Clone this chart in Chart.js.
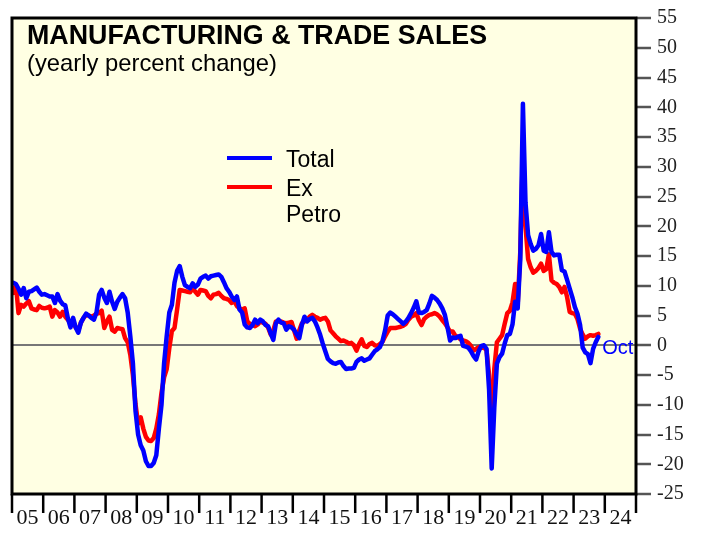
<!DOCTYPE html>
<html>
<head>
<meta charset="utf-8">
<script src="https://cdn.jsdelivr.net/npm/chart.js"></script>
<style>
  body { margin: 0; background: #fff; }
  #wrap { width: 701px; height: 535px; }
</style>
</head>
<body>
<div id="wrap"><canvas id="sales-chart" width="701" height="535"></canvas></div>
<script>
// year labels under the axis, one per year starting Jan 2005
const yearLabels = ['05', '06', '07', '08', '09', '10', '11', '12', '13', '14',
  '15', '16', '17', '18', '19', '20', '21', '22', '23', '24'];
const lastMonth = 'Oct';

// monthly yearly % change, Jan 2005 - Oct 2023
const total = [
  10.5, 10.3, 9.5, 8.5, 9.6, 7.9, 9.0, 9.1, 9.4, 9.7, 9.0, 8.5,
  8.6, 8.4, 8.2, 8.2, 7.1, 8.6, 7.5, 6.9, 6.7, 4.5, 3.0, 4.6,
  3.0, 2.1, 3.8, 4.6, 5.3, 5.0, 4.6, 4.3, 5.5, 8.5, 9.3, 8.0,
  7.1, 9.0, 7.3, 6.1, 7.3, 8.0, 8.6, 7.9, 5.5, 1.5, -3.0, -11.0,
  -15.0, -16.8, -17.7, -19.5, -20.3, -20.3, -19.8, -18.5, -14.0, -10.0, -3.0, 1.5,
  5.5, 6.8, 10.5, 12.5, 13.3, 11.5, 10.1, 9.8, 9.6, 10.4, 9.8, 10.2,
  11.2, 11.5, 11.7, 11.2, 11.6, 11.7, 11.8, 11.9, 11.5, 10.6, 9.6, 9.0,
  8.2, 7.6, 8.2, 6.0, 5.5, 3.5, 3.0, 2.9, 3.4, 4.3, 3.7, 4.3,
  4.0, 3.4, 3.2, 2.0, 0.9, 3.7, 4.3, 3.8, 3.7, 2.6, 3.2, 3.0,
  2.6, 1.8, 1.2, 3.4, 4.8, 4.0, 4.4, 4.6, 4.0, 3.0, 1.8, 0.3,
  -1.0, -2.3, -2.7, -3.0, -3.1, -2.9, -2.8, -3.5, -4.0, -3.9, -3.9, -3.8,
  -2.8, -2.4, -2.2, -2.6, -2.4, -2.2, -1.6, -1.0, -0.7, -0.3, 0.7, 2.5,
  5.0, 5.5, 5.2, 4.8, 4.4, 4.0, 3.6, 4.0, 4.6, 5.4, 6.3, 7.4,
  5.5, 5.4, 5.6, 5.9, 7.0, 8.3, 8.0, 7.6, 7.0, 6.2, 5.1, 3.0,
  0.8, 1.3, 1.2, 1.4, 1.6, -0.1, -0.2, -0.4, -1.0, -1.8, -2.4, -1.0,
  -0.1, 0.0, -0.6, -7.5, -20.7, -10.5, -3.1, -2.0, -1.4, 0.3, 1.7, 1.9,
  3.5, 7.3, 6.2, 14.5, 40.6, 24.0, 18.5, 17.0, 15.9, 16.2, 16.8, 18.7,
  15.9, 15.7, 19.0, 15.7, 15.1, 15.2, 15.2, 12.6, 12.4, 11.0, 9.5, 8.1,
  6.4, 5.3, 3.4, -0.4, -1.2, -1.5, -3.0, -0.6, 0.5, 1.4
];
const exPetro = [
  8.8, 10.2, 5.4, 6.8, 6.5, 7.0, 7.4, 6.2, 6.0, 5.9, 6.6, 6.3,
  6.2, 6.3, 6.5, 4.8, 5.9, 5.5, 4.8, 5.6, 4.8, 4.3, 3.8, 3.8,
  3.0, 2.5, 3.8, 4.6, 5.1, 5.0, 4.8, 5.0, 5.3, 5.4, 5.8, 2.9,
  4.0, 4.8, 2.6, 2.3, 2.9, 2.8, 2.7, 1.2, 0.5, -1.6, -5.0, -9.9,
  -13.2, -12.1, -14.0, -15.4, -16.0, -16.1, -15.6, -14.0, -11.6, -8.0, -5.4, -4.0,
  -0.5, 2.4, 2.9, 6.0, 9.3, 9.2, 9.1, 9.0, 8.9, 9.6, 9.0, 8.5,
  9.3, 9.2, 9.1, 8.3, 7.9, 8.5, 8.6, 8.8, 8.3, 7.9, 7.8, 7.6,
  7.1, 7.4, 6.6, 6.2, 6.0, 6.2, 4.0, 3.6, 3.4, 3.2, 3.5, 4.0,
  3.8, 3.6, 3.0, 1.8, 2.5, 4.0, 4.0, 4.0, 3.8, 3.7, 3.8, 3.9,
  2.5, 1.1, 2.5, 3.7, 4.0, 4.3, 4.8, 5.1, 4.8, 4.6, 4.3, 4.5,
  4.6, 4.0, 2.5, 2.0, 1.5, 1.1, 0.7, 0.8, 0.6, 0.3, 0.4, 0.0,
  -0.9, 0.2, 1.0, -0.1, -0.3, 0.2, 0.4, 0.0, -0.1, 0.2, 0.6, 1.5,
  2.3, 2.9, 2.9, 2.9, 3.0, 3.1, 3.3, 3.6, 4.3, 4.8, 5.0, 5.4,
  4.2, 3.4, 4.4, 4.8, 5.1, 5.2, 5.4, 5.2, 4.8, 4.2, 3.7, 3.0,
  2.3, 2.3, 1.6, 1.4, 1.0, 0.8, 0.7, 0.4, -0.1, -0.9, -0.6, -0.3,
  -0.4, -0.4, -0.8, -5.0, -14.2, -4.0, 0.5, 1.1, 1.7, 3.6, 5.4, 5.8,
  7.2, 10.3, 6.9, 15.8, 32.8, 20.0, 14.5, 13.1, 12.2, 12.5, 13.0, 13.7,
  12.5, 12.8, 15.3, 10.9, 10.5, 10.3, 9.8, 8.9, 9.8, 8.1, 5.6, 5.4,
  5.3, 4.4, 2.8, 1.8, 1.1, 1.5, 1.7, 1.6, 1.7, 1.9
];

// x = months since Jan 2005, point at middle of its month
const toPoints = arr => arr.map((v, i) => ({ x: i + 0.5, y: v }));

const sans = "'Liberation Sans', Arial, sans-serif";
const serif = "'Liberation Serif', 'Times New Roman', serif";

// cream plot area, black frame, year boundary ticks, title, legend, month note
const decor = {
  id: 'decor',
  beforeDraw(chart) {
    const { ctx, chartArea: a } = chart;
    ctx.save();
    ctx.fillStyle = '#fff';
    ctx.fillRect(0, 0, chart.width, chart.height);
    ctx.fillStyle = '#ffffe3';
    ctx.fillRect(a.left, a.top, a.right - a.left, a.bottom - a.top);
    ctx.restore();
  },
  afterDraw(chart) {
    const { ctx, chartArea: a, scales } = chart;
    ctx.save();
    ctx.strokeStyle = '#000';
    ctx.lineWidth = 3;
    ctx.strokeRect(a.left, a.top, a.right - a.left, a.bottom - a.top);

    ctx.lineWidth = 2.5;
    for (let k = 0; k <= yearLabels.length; k++) {
      const px = scales.x.getPixelForValue(k * 12);
      ctx.beginPath();
      ctx.moveTo(px, a.bottom);
      ctx.lineTo(px, a.bottom + 19);
      ctx.stroke();
    }

    ctx.fillStyle = '#000';
    ctx.textBaseline = 'alphabetic';
    ctx.font = 'bold 26.8px ' + sans;
    ctx.fillText('MANUFACTURING & TRADE SALES', 27, 44);
    ctx.font = '23.8px ' + sans;
    ctx.fillText('(yearly percent change)', 27, 71);

    // legend
    const rows = [158, 187];
    ctx.font = '23px ' + sans;
    chart.data.datasets.forEach((ds, i) => {
      ctx.strokeStyle = ds.borderColor;
      ctx.lineWidth = 4;
      ctx.beginPath();
      ctx.moveTo(227, rows[i]);
      ctx.lineTo(272, rows[i]);
      ctx.stroke();
      ctx.fillStyle = '#000';
      ds.label.split(' ').forEach((word, j) => {
        ctx.fillText(word, 286, rows[i] + 8.5 + j * 26);
      });
    });

    // last month note next to the end of the Total line
    const pts = chart.getDatasetMeta(0).data;
    const last = pts[pts.length - 1];
    ctx.fillStyle = '#0000ff';
    ctx.font = '20px ' + sans;
    ctx.fillText(lastMonth, last.x + 4, scales.y.getPixelForValue(0) + 8.5);
    ctx.restore();
  }
};

const chart = new Chart(document.getElementById('sales-chart'), {
  type: 'line',
  data: {
    datasets: [{
      label: 'Total',
      data: toPoints(total),
      borderColor: '#0000ff',
      borderWidth: 4.5,
      pointRadius: 0,
      tension: 0,
      borderJoinStyle: 'round',
      borderCapStyle: 'round'
    }, {
      label: 'Ex Petro',
      data: toPoints(exPetro),
      borderColor: '#ff0000',
      borderWidth: 4.5,
      pointRadius: 0,
      tension: 0,
      borderJoinStyle: 'round',
      borderCapStyle: 'round'
    }]
  },
  options: {
    responsive: false,
    animation: false,
    layout: { padding: { left: 12, top: 15, right: 0, bottom: 0 } },
    plugins: {
      legend: { display: false },
      tooltip: { enabled: false }
    },
    scales: {
      x: {
        type: 'linear',
        min: 0,
        max: yearLabels.length * 12,
        afterFit: s => { s.height = 41; },
        afterBuildTicks: s => { s.ticks = yearLabels.map((_, k) => ({ value: k * 12 + 6 })); },
        grid: { display: false, drawTicks: false },
        border: { display: false },
        ticks: {
          autoSkip: false,
          maxRotation: 0,
          padding: 11,
          color: '#111',
          font: { family: serif, size: 22 },
          callback: v => yearLabels[Math.round((v - 6) / 12)]
        }
      },
      y: {
        position: 'right',
        min: -25,
        max: 55,
        afterFit: s => { s.width = 65; },
        border: { display: false },
        grid: {
          color: c => (c.tick && c.tick.value === 0 ? '#777' : 'rgba(0,0,0,0)'),
          lineWidth: 2,
          tickColor: '#555',
          tickLength: 15,
          tickWidth: 2.5
        },
        ticks: {
          stepSize: 5,
          padding: 6,
          color: '#222',
          font: { family: serif, size: 20 }
        }
      }
    }
  },
  plugins: [decor]
});
</script>
</body>
</html>
